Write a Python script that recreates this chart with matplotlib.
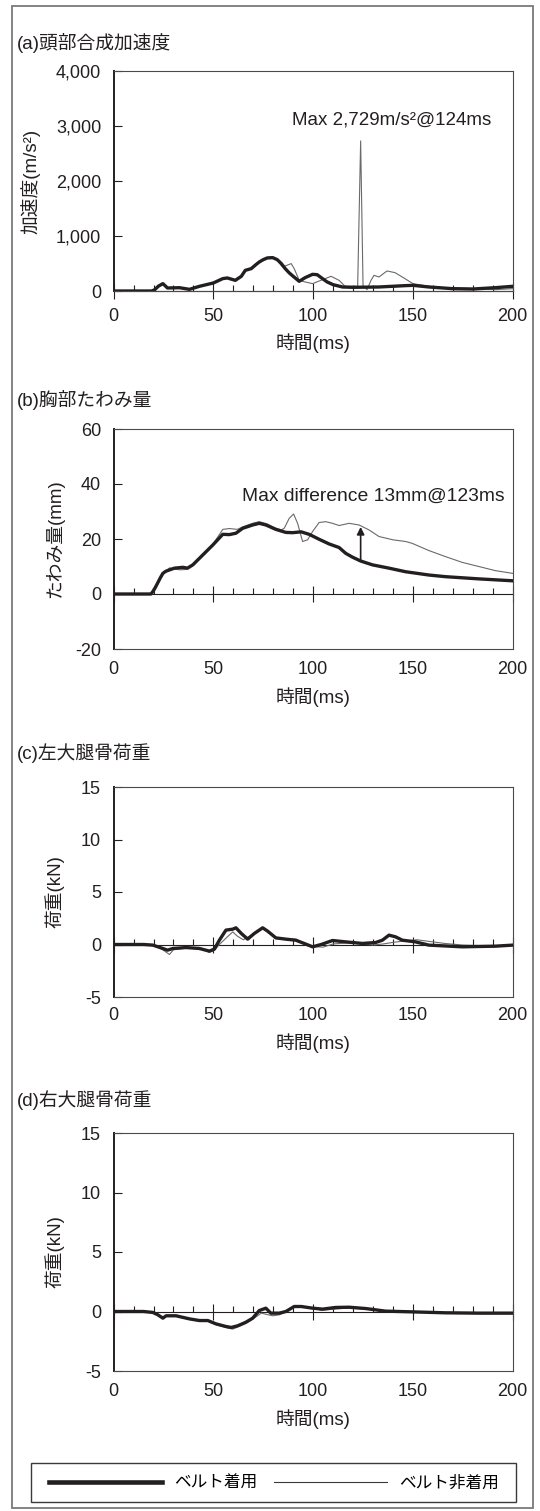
import matplotlib
matplotlib.use("Agg")
import matplotlib.pyplot as plt
from matplotlib.ticker import MultipleLocator, FuncFormatter
from matplotlib.lines import Line2D
from matplotlib.patches import Rectangle

plt.rcParams['font.family'] = ['Liberation Sans', 'Noto Sans CJK JP', 'DejaVu Sans']
plt.rcParams['axes.unicode_minus'] = False

INK = '#231f20'
THIN = '#6a6a6a'

# (a) head resultant acceleration (m/s2)
a_t_belt = [0, 19, 20.5, 22.5, 24.7, 27, 33, 38, 43, 50, 54.7, 57, 61, 64, 66, 69, 71, 73, 75, 77,
            79.7, 82, 84, 86, 88, 90, 93, 96, 99.7, 102, 104.7, 107, 110, 114.7, 119.7, 133, 146,
            150, 158, 170, 180, 191, 200]
a_v_belt = [0, 0, 20, 90, 134, 55, 60, 30, 85, 146, 225, 237, 194, 267, 376, 407, 470, 528, 570, 601,
            607, 570, 500, 407, 330, 267, 176, 243, 303, 297, 225, 165, 115, 73, 67, 73, 97,
            103, 73, 42, 36, 60, 85]
a_t_nobelt = [0, 19, 20.5, 24.7, 27, 33, 38, 43, 50, 54.7, 57, 61, 64, 66, 69, 73, 77, 79.7, 82,
              84.7, 89, 90.5, 93, 96, 99.7, 104.7, 109, 113, 116, 122.3, 123.8, 125, 127, 129,
              130.5, 133, 137, 141, 146, 150, 158, 166, 183, 191, 200]
a_v_nobelt = [0, 0, 25, 120, 60, 50, 35, 80, 140, 220, 240, 190, 260, 370, 400, 520, 595, 600, 560,
              437, 498, 407, 194, 164, 134, 206, 267, 194, 85, 85, 2729, 100, 24, 194,
              285, 255, 364, 334, 225, 134, 85, 60, 42, 24, 42]

# (b) chest deflection (mm)
b_t_belt = [0, 18.7, 19.7, 21, 22, 23.5, 24.7, 26, 27, 30.5, 34.7, 37, 39.7, 44.7, 49.7, 54.7, 58,
            61.3, 64.7, 69.7, 73, 76.3, 81.3, 86.3, 89.7, 94, 98, 103, 108, 113, 116.3, 119.7,
            123.8, 129.7, 138, 146.3, 158, 166.3, 183, 200]
b_v_belt = [0, 0, 0.9, 2.5, 3.9, 6.0, 7.5, 8.2, 8.5, 9.4, 9.7, 9.4, 10.6, 14.2, 17.8, 21.7, 21.6,
            22.1, 23.9, 25.1, 25.7, 25.1, 23.5, 22.4, 22.3, 22.6, 21.7, 19.9, 18.2, 16.9, 14.8, 13.4,
            12.0, 10.6, 9.4, 8.1, 6.9, 6.3, 5.5, 4.8]
b_t_nobelt = [0, 18.7, 20, 22, 24.7, 28, 30.5, 34, 37, 40, 45, 50, 54.7, 58, 62, 65, 70, 73, 77,
              81, 84, 85.5, 88, 90.2, 92.2, 94.7, 97.2, 99.7, 103, 106.3, 109.7, 113, 118, 123,
              128, 133, 140, 146.3, 149.7, 158, 166.3, 174.7, 183, 191.3, 200]
b_v_nobelt = [0, 0, 0.5, 3.5, 7.2, 9.5, 9.0, 8.8, 9.0, 10.5, 14.5, 18.3, 23.5, 23.8, 23.5, 24.5,
              25.8, 26.3, 25.5, 24.0, 23.3, 23.9, 27.5, 29.1, 25.7, 19.1, 19.7, 22.7, 26.0, 26.3,
              25.7, 24.9, 25.7, 25.1, 23.3, 20.9, 19.7, 19.1, 18.4, 15.8, 13.6, 11.5, 10.0, 8.5, 7.5]

# (c) left femur load (kN)
c_t_belt = [0, 15, 19.7, 24.7, 27, 29.7, 36.3, 43, 48, 50.5, 53, 56.3, 59.7, 61.3, 64, 67.2, 70.5,
            74.7, 77.2, 81.3, 86.3, 91.3, 95.5, 99.7, 104, 109.7, 116.3, 124.7, 131.3, 134.7, 138,
            141.3, 144.7, 151.3, 158, 174.7, 191.3, 200]
c_v_belt = [0, 0, -0.06, -0.38, -0.54, -0.38, -0.29, -0.38, -0.63, -0.44, 0.41, 1.37, 1.46, 1.59,
            1.05, 0.51, 1.05, 1.59, 1.27, 0.63, 0.51, 0.41, 0.1, -0.22, 0, 0.38, 0.25, 0.1, 0.19,
            0.41, 0.89, 0.73, 0.41, 0.25, -0.06, -0.22, -0.16, -0.06]
c_t_nobelt = [0, 18, 22, 25, 28, 30, 36, 43, 48, 50.5, 53, 56.3, 59.7, 62, 65, 70, 74.7, 78, 82,
              87, 91.5, 94, 97, 100, 105, 110, 117, 125, 130, 135, 140, 146, 152, 158, 166, 175,
              183, 192, 200]
c_v_nobelt = [0, 0, -0.2, -0.55, -0.95, -0.5, -0.35, -0.35, -0.75, -0.55, 0.0, 0.6, 1.2, 0.8, 0.45,
              1.0, 1.55, 1.1, 0.6, 0.45, 0.5, 0.2, -0.1, -0.2, -0.25, 0.05, 0.15, 0.05, -0.05, 0.05,
              0.2, 0.35, 0.45, 0.3, 0.1, -0.05, -0.1, -0.15, -0.05]

# (d) right femur load (kN)
d_t_belt = [0, 15, 19.7, 22.2, 24.7, 26.3, 31.3, 38, 43, 47.2, 51.3, 56.3, 59, 62.2, 66.3, 69.7,
            73, 76.3, 78.8, 83, 86.3, 90.5, 94, 99.7, 104.7, 111.3, 118, 126.3, 136.3, 149.7,
            166.3, 183, 200]
d_v_belt = [0, 0, -0.08, -0.28, -0.56, -0.36, -0.36, -0.62, -0.76, -0.76, -1.04, -1.26, -1.34,
            -1.2, -0.9, -0.56, 0.08, 0.28, -0.14, -0.14, 0, 0.42, 0.42, 0.28, 0.2, 0.34, 0.36,
            0.25, 0.03, -0.03, -0.11, -0.14, -0.14]
d_t_nobelt = [0, 15, 19.7, 22.2, 24.7, 26.3, 31.3, 38, 43, 47.2, 51.3, 56.3, 59.7, 62.2, 66.3,
              69.7, 74, 79.7, 83, 86.3, 90.5, 94, 99.7, 104, 111, 118, 126, 135, 150, 166, 183, 200]
d_v_nobelt = [0, 0, -0.1, -0.3, -0.6, -0.4, -0.4, -0.66, -0.8, -0.8, -1.1, -1.35, -1.48, -1.3,
              -1.0, -0.65, -0.14, -0.36, -0.28, -0.05, 0.38, 0.45, 0.3, 0.1, 0.2, 0.3, 0.2, 0.05,
              -0.05, -0.1, -0.12, -0.12]

x_ticks = [0, 50, 100, 150, 200]

panels = [
    # title, ylabel, ylim, yticks, axes top/bottom (px), data, title y (px), ylabel x, x tick pad
    ('(a)頭部合成加速度', '加速度(m/s²)', (0, 4000), [0, 1000, 2000, 3000, 4000], (71, 291),
     (a_t_belt, a_v_belt, a_t_nobelt, a_v_nobelt), 43, -0.183, 12),
    ('(b)胸部たわみ量', 'たわみ量(mm)', (-20, 60), [-20, 0, 20, 40, 60], (429, 649),
     (b_t_belt, b_v_belt, b_t_nobelt, b_v_nobelt), 400, -0.123, 9),
    ('(c)左大腿骨荷重', '荷重(kN)', (-5, 15), [-5, 0, 5, 10, 15], (787, 997),
     (c_t_belt, c_v_belt, c_t_nobelt, c_v_nobelt), 753, -0.123, 7),
    ('(d)右大腿骨荷重', '荷重(kN)', (-5, 15), [-5, 0, 5, 10, 15], (1133, 1371),
     (d_t_belt, d_v_belt, d_t_nobelt, d_v_nobelt), 1100, -0.123, 9),
]

W, H = 540, 1511
fig = plt.figure(figsize=(W / 100, H / 100), dpi=100)

# outer frame
fig.patches.append(Rectangle((12 / W, 1 - 1508 / H), 521 / W, 1502 / H, transform=fig.transFigure,
                             fill=False, edgecolor='#7a7a7a', linewidth=1.3))

axes = []
for title, ylabel, ylim, yticks, (top, bot), data, title_y, ylab_x, xpad in panels:
    ax = fig.add_axes([113.6 / W, 1 - bot / H, 399.1 / W, (bot - top) / H])
    t1, v1, t2, v2 = data
    ax.plot(t2, v2, color=THIN, linewidth=0.8, zorder=3)
    ax.plot(t1, v1, color=INK, linewidth=2.4, zorder=4, solid_joinstyle='round')
    ax.set_xlim(0, 200)
    ax.set_ylim(*ylim)
    ax.set_xticks(x_ticks)
    ax.set_yticks(yticks)
    ax.tick_params(axis='x', length=0, pad=xpad, labelsize=13, colors=INK)
    ax.tick_params(axis='y', direction='in', length=6, width=0.8, pad=9, labelsize=13, colors=INK)
    if ylim[1] == 4000:
        ax.yaxis.set_major_formatter(FuncFormatter(lambda v, p: f'{v:,.0f}'))
    for side, sp in ax.spines.items():
        sp.set_color('#4a4a4a')
        sp.set_linewidth(0.8)
    ax.spines['left'].set_color(INK)
    ax.spines['left'].set_linewidth(1.4)

    # time axis drawn on the zero line
    frac = (0 - ylim[0]) / (ylim[1] - ylim[0])
    sec = ax.secondary_xaxis(frac)
    sec.xaxis.set_major_locator(MultipleLocator(50))
    sec.xaxis.set_minor_locator(MultipleLocator(10))
    sec.tick_params(which='major', direction='inout', length=11, width=0.8, color=INK,
                    labelbottom=False, labeltop=False)
    sec.tick_params(which='minor', direction='in', length=4.5, width=0.8, color=INK)
    for sp in sec.spines.values():
        sp.set_color(INK)
        sp.set_linewidth(0.8)

    ax.set_xlabel('時間(ms)', fontsize=13.5, labelpad=6.5, color=INK)
    ax.set_ylabel(ylabel, fontsize=13.5, color=INK)
    ax.yaxis.set_label_coords(ylab_x, 0.5)
    fig.text(17 / W, 1 - title_y / H, title, fontsize=13.5, ha='left', va='center', color=INK)
    axes.append(ax)

ax_a, ax_b = axes[0], axes[1]
ax_a.text(89.6, 3110, 'Max 2,729m/s²@124ms', fontsize=13.5, ha='left', va='center', color=INK)
ax_b.text(64.3, 35.4, 'Max difference 13mm@123ms', fontsize=13.9, ha='left', va='center', color=INK)
ax_b.annotate('', xy=(123.8, 24.4), xytext=(123.8, 12.0),
              arrowprops=dict(arrowstyle='-|>', color=INK, lw=1.2, mutation_scale=11,
                              shrinkA=0, shrinkB=0), zorder=5)

# legend
fig.patches.append(Rectangle((31 / W, 1 - 1502 / H), 485 / W, 39 / H, transform=fig.transFigure,
                             fill=False, edgecolor='#3a3a3a', linewidth=1.0))
handles = [Line2D([], [], color=INK, linewidth=3.3), Line2D([], [], color='#3a3a3a', linewidth=0.8)]
fig.legend(handles, ['ベルト着用', 'ベルト非着用'], loc='center left',
           bbox_to_anchor=(49 / W, 1 - 1483 / H), ncol=2, frameon=False, fontsize=12,
           handlelength=6.8, handletextpad=0.7, columnspacing=1.0, borderpad=0, borderaxespad=0)

fig.savefig('out.png', dpi=100)
